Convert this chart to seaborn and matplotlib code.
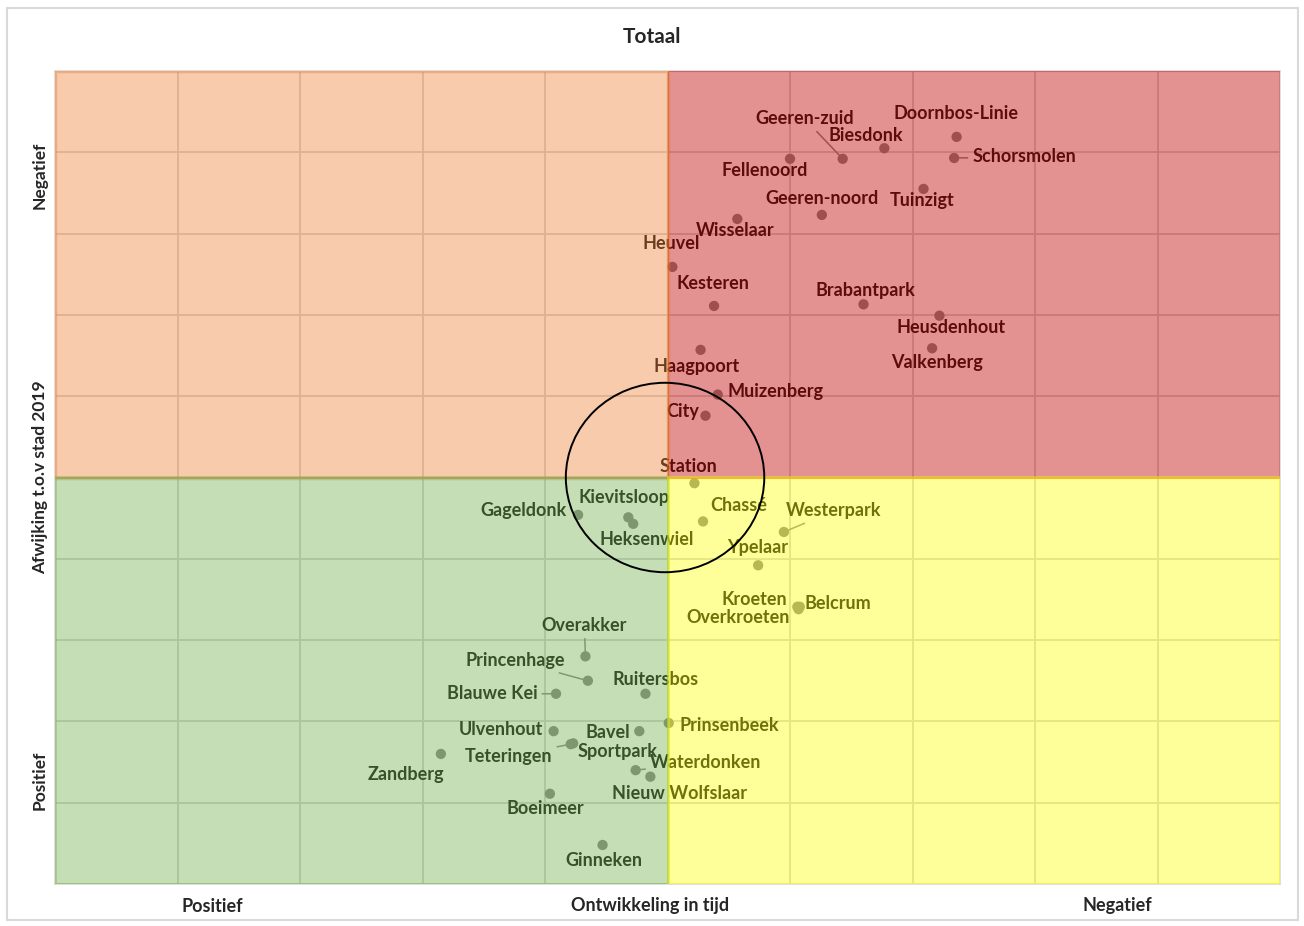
import numpy as np
import pandas as pd
import matplotlib
matplotlib.use("Agg")
import matplotlib.pyplot as plt
from matplotlib.patches import Rectangle, Ellipse
import seaborn as sns

# wijken en hun scores (x: ontwikkeling in tijd, y: afwijking t.o.v. stad 2019)
wijken = ["Doornbos-Linie", "Geeren-zuid", "Biesdonk", "Schorsmolen", "Fellenoord",
          "Tuinzigt", "Geeren-noord", "Wisselaar", "Heuvel", "Kesteren",
          "Brabantpark", "Heusdenhout", "Valkenberg", "Haagpoort", "Muizenberg",
          "City", "Station", "Gageldonk", "Kievitsloop", "Heksenwiel",
          "Chassé", "Westerpark", "Ypelaar", "Belcrum", "Kroeten",
          "Overkroeten", "Overakker", "Princenhage", "Blauwe Kei", "Ruitersbos",
          "Ulvenhout", "Bavel", "Prinsenbeek", "Teteringen", "Sportpark",
          "Waterdonken", "Nieuw Wolfslaar", "Zandberg", "Boeimeer", "Ginneken"]
ontwikkeling = [2.36, 1.43, 1.77, 2.34, 1.00,
                2.09, 1.26, 0.57, 0.04, 0.38,
                1.60, 2.22, 2.16, 0.27, 0.41,
                0.31, 0.22, -0.73, -0.32, -0.28,
                0.29, 0.95, 0.74, 1.08, 1.06,
                1.07, -0.67, -0.65, -0.91, -0.18,
                -0.93, -0.23, 0.01, -0.79, -0.77,
                -0.26, -0.14, -1.85, -0.96, -0.53]
afwijking = [4.19, 3.92, 4.05, 3.93, 3.92,
             3.55, 3.23, 3.18, 2.59, 2.11,
             2.13, 1.99, 1.59, 1.57, 1.02,
             0.76, -0.07, -0.46, -0.49, -0.57,
             -0.54, -0.67, -1.08, -1.59, -1.59,
             -1.62, -2.20, -2.50, -2.66, -2.66,
             -3.12, -3.12, -3.02, -3.28, -3.27,
             -3.60, -3.68, -3.40, -3.89, -4.52]

# label layout: offset in pixels from the dot, and whether a leader line is drawn
label_offset = {
    "Doornbos-Linie": (-1, 23), "Geeren-zuid": (-38, 40), "Biesdonk": (-19, 13),
    "Schorsmolen": (70, 1), "Fellenoord": (-25, -12), "Tuinzigt": (-1, -12),
    "Geeren-noord": (0, 16), "Wisselaar": (-2, -12), "Heuvel": (-1, 23),
    "Kesteren": (-1, 22), "Brabantpark": (2, 14), "Heusdenhout": (12, -12),
    "Valkenberg": (5, -14), "Haagpoort": (-4, -17), "Muizenberg": (58, 3),
    "City": (-23, 4), "Station": (-6, 17), "Gageldonk": (-55, 4),
    "Kievitsloop": (-4, 20), "Heksenwiel": (13, -16), "Chassé": (36, 16),
    "Westerpark": (50, 21), "Ypelaar": (-1, 18), "Belcrum": (38, 3),
    "Kroeten": (-43, 7), "Overkroeten": (-61, -8), "Overakker": (-1, 31),
    "Princenhage": (-73, 20), "Blauwe Kei": (-64, 0), "Ruitersbos": (10, 14),
    "Ulvenhout": (-53, 2), "Bavel": (-32, -1), "Prinsenbeek": (61, -2),
    "Teteringen": (-62, -12), "Sportpark": (44, -8), "Waterdonken": (70, 8),
    "Nieuw Wolfslaar": (29, -17), "Zandberg": (-35, -21), "Boeimeer": (-5, -15),
    "Ginneken": (1, -16),
}
met_lijn = ["Geeren-zuid", "Schorsmolen", "Westerpark", "Overakker", "Princenhage",
            "Blauwe Kei", "Teteringen", "Waterdonken"]

df = pd.DataFrame({"wijk": wijken, "x": ontwikkeling, "y": afwijking})

sns.set_theme(style="white")
plt.rcParams["font.family"] = ["Lato", "DejaVu Sans"]

fig = plt.figure(figsize=(13.04, 9.26), dpi=100)
ax = fig.add_axes([55 / 1304, 42 / 926, 1225 / 1304, 813 / 926])
ax.set_xlim(-5, 5)
ax.set_ylim(-5, 5)

# grid
for v in np.arange(-4, 5, 1):
    ax.axvline(v, color="#d4d4d4", lw=1.3, zorder=1)
    ax.axhline(v, color="#d4d4d4", lw=1.3, zorder=1)

sns.scatterplot(data=df, x="x", y="y", ax=ax, s=55, color="#8a8a8a",
                edgecolor="none", zorder=3, legend=False)

for _, r in df.iterrows():
    dx, dy = label_offset[r["wijk"]]
    props = None
    if r["wijk"] in met_lijn:
        props = dict(arrowstyle="-", color="#8c8c8c", lw=1.1, shrinkA=1, shrinkB=3)
    ax.annotate(r["wijk"], xy=(r["x"], r["y"]), xytext=(dx, dy),
                textcoords="offset pixels", ha="center", va="center",
                fontsize=13, fontweight="bold", color="#141414",
                arrowprops=props, zorder=4)

# kwadranten als transparante vlakken bovenop (volgorde bepaalt zichtbare randen)
kwadranten = [((0, 0), "#C00000", 0.43, 0.8), ((-5, 0), "#ED7D31", 0.40, 2.5),
              ((-5, -5), "#70AD47", 0.40, 2), ((0, -5), "#FFFF00", 0.40, 2)]
for (x0, y0), kleur, a, lw in kwadranten:
    ax.add_patch(Rectangle((x0, y0), 5, 5, facecolor=kleur, edgecolor=kleur,
                           lw=lw, alpha=a, zorder=10))

ax.add_patch(Ellipse((-0.02, 0.0), 1.62, 2.33, fill=False, edgecolor="black",
                     lw=1.4, zorder=11))

ax.set_xticks([])
ax.set_yticks([])
ax.set_xlabel("")
ax.set_ylabel("")
for sp in ax.spines.values():
    sp.set_color("#d9d9d9")
    sp.set_linewidth(1.2)

fig.text(652 / 1304, 1 - 37 / 926, "Totaal", ha="center", va="center",
         fontsize=15, fontweight="bold")
for xp, t in [(212, "Positief"), (650, "Ontwikkeling in tijd"), (1117, "Negatief")]:
    fig.text(xp / 1304, 1 - 906 / 926, t, ha="center", va="center",
             fontsize=13, fontweight="bold")
for yp, t in [(175, "Negatief"), (477, "Afwijking t.o.v stad 2019"), (780, "Positief")]:
    fig.text(40 / 1304, 1 - yp / 926, t, ha="center", va="center", rotation=90,
             fontsize=12.5, fontweight="bold")

fig.patches.append(Rectangle((7 / 1304, 6 / 926), 1291 / 1304, 912 / 926,
                             transform=fig.transFigure, fill=False,
                             edgecolor="#d9d9d9", lw=1.5))

fig.savefig("out.png", dpi=100)
